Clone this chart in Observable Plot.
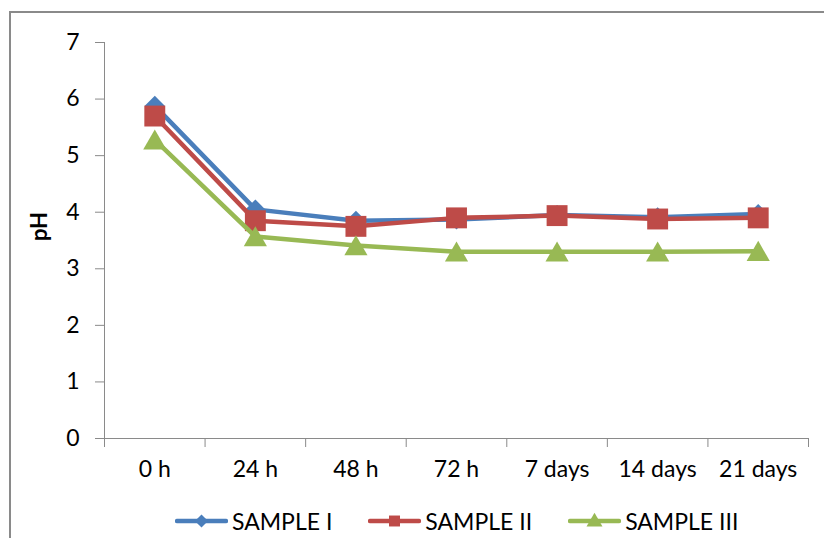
<!DOCTYPE html>
<html>
<head>
<meta charset="utf-8">
<script src="https://cdn.jsdelivr.net/npm/d3@7"></script>
<script src="https://cdn.jsdelivr.net/npm/@observablehq/plot@0.6"></script>
<style>
  html, body { margin: 0; padding: 0; background: #fff; overflow: hidden; }
  #wrap { position: relative; width: 824px; height: 538px; overflow: hidden; font-family: Lato, "Open Sans", sans-serif; }
  #frame { position: absolute; left: 9px; top: 11px; width: 900px; height: 700px; border: 2px solid #8a8a8a; box-sizing: border-box; pointer-events: none; }
  #chart { position: absolute; left: 0; top: 0; }
  #legend { position: absolute; left: 0; top: 502px; height: 38px; display: flex; align-items: center; padding-left: 175px; gap: 36px; font-size: 23px; color: #000; }
  .item { display: flex; align-items: center; gap: 4px; }
</style>
</head>
<body>
<div id="wrap">
  <div id="frame"></div>
  <div id="chart"></div>
  <div id="legend"></div>
</div>
<script>
// Sampling times along the x axis
const categories = ["0 h", "24 h", "48 h", "72 h", "7 days", "14 days", "21 days"];
// pH readings for each sample
const sampleI = [5.88, 4.05, 3.85, 3.87, 3.95, 3.91, 3.97];
const sampleII = [5.70, 3.85, 3.75, 3.90, 3.94, 3.88, 3.90];
const sampleIII = [5.28, 3.57, 3.41, 3.30, 3.30, 3.30, 3.31];
const seriesNames = ["SAMPLE I", "SAMPLE II", "SAMPLE III"];
const yTicks = [0, 1, 2, 3, 4, 5, 6, 7];

const colors = ["#4a7ebb", "#be4b48", "#98b954"];
const symbols = ["diamond2", "square", "triangle"];
const radii = [9, 11.8, 8.6];
const nudges = [0, 0, 3];
const axisGray = "#8a8a8a";

const allValues = [sampleI, sampleII, sampleIII];
const rows = allValues.map((vals, s) =>
  vals.map((ph, i) => ({i, time: categories[i], ph, series: seriesNames[s]}))
);

const seriesMarks = rows.flatMap((data, s) => [
  Plot.line(data, {x: "i", y: "ph", stroke: colors[s], strokeWidth: 4.5, strokeLinejoin: "round"}),
  Plot.dot(data, {x: "i", y: "ph", symbol: () => symbols[s], r: radii[s], fill: colors[s], stroke: "none", dy: nudges[s]})
]);

const boundaries = d3.range(-0.5, categories.length, 1);

const chart = Plot.plot({
  width: 824,
  height: 500,
  marginLeft: 104,
  marginRight: 16,
  marginTop: 42,
  marginBottom: 62,
  style: {fontFamily: "Lato, 'Open Sans', sans-serif", background: "transparent", color: "#000"},
  x: {type: "linear", domain: [-0.5, categories.length - 0.5]},
  y: {domain: [0, 7]},
  symbol: {type: "identity"},
  marks: [
    Plot.ruleX([-0.5], {y1: 0, y2: 7, stroke: axisGray}),
    Plot.ruleY([0], {x1: -0.5, x2: categories.length - 0.5, stroke: axisGray}),
    Plot.axisY(yTicks, {tickSize: 9, tickPadding: 16, fontSize: 23, stroke: axisGray, fill: "#000", tickFormat: d => String(d), label: null}),
    Plot.axisX(boundaries, {tickSize: 9, tickFormat: () => "", stroke: axisGray, label: null}),
    Plot.axisX(d3.range(categories.length), {tickSize: 0, tickPadding: 22, fontSize: 23, fill: "#000", tickFormat: i => categories[i], label: null}),
    Plot.text(["pH"], {frameAnchor: "left", textAnchor: "middle", rotate: -90, dx: -65, dy: -14, fontSize: 22, fontWeight: "bold", fill: "#000"}),
    ...seriesMarks
  ]
});
document.getElementById("chart").appendChild(chart);

// Legend row below the plot
const legend = d3.select("#legend");
const swatchPaths = {
  diamond2: d3.symbol(d3.symbolDiamond2, 110)(),
  square: d3.symbol(d3.symbolSquare, 120)(),
  triangle: d3.symbol(d3.symbolTriangle, 110)()
};
seriesNames.forEach((name, s) => {
  const item = legend.append("div").attr("class", "item");
  const svg = item.append("svg").attr("width", 53).attr("height", 20);
  svg.append("line").attr("x1", 2).attr("x2", 51).attr("y1", 10).attr("y2", 10)
    .attr("stroke", colors[s]).attr("stroke-width", 4.5).attr("stroke-linecap", "round");
  svg.append("path").attr("d", swatchPaths[symbols[s]])
    .attr("transform", `translate(26.5,${s === 2 ? 11 : 10})`).attr("fill", colors[s]);
  item.append("span").text(name);
});
</script>
</body>
</html>
